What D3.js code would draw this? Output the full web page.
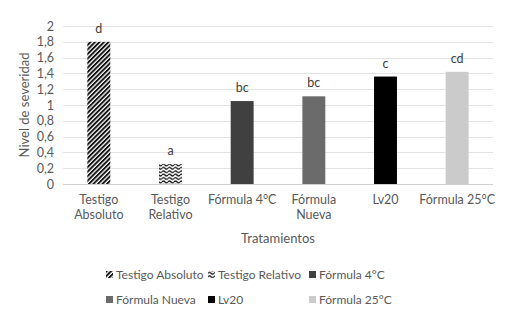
<!DOCTYPE html>
<html>
<head>
<meta charset="utf-8">
<script src="https://cdn.jsdelivr.net/npm/d3@7"></script>
<style>
  body { margin: 0; background: #fff; }
  text { font-family: Lato, "Open Sans", sans-serif; }
</style>
</head>
<body>
<div id="chart"></div>
<script>
// data
var categories = ["Testigo Absoluto", "Testigo Relativo", "Fórmula 4°C", "Fórmula Nueva", "Lv20", "Fórmula 25°C"];
var tickLabels = [["Testigo", "Absoluto"], ["Testigo", "Relativo"], ["Fórmula 4°C"], ["Fórmula", "Nueva"], ["Lv20"], ["Fórmula 25°C"]];
var values = [1.8, 0.25, 1.05, 1.11, 1.36, 1.42];
var letters = ["d", "a", "bc", "bc", "c", "cd"];
var yTicks = [0, 0.2, 0.4, 0.6, 0.8, 1, 1.2, 1.4, 1.6, 1.8, 2];
var legendRows = [["Testigo Absoluto", "Testigo Relativo", "Fórmula 4°C"], ["Fórmula Nueva", "Lv20", "Fórmula 25°C"]];

var fills = ["url(#diag)", "url(#wave)", "#404040", "#6b6b6b", "#000000", "#cbcbcb"];

var width = 506, height = 316;
var margin = { left: 63, right: 13, top: 26, bottom: 132 };

var svg = d3.select("#chart").append("svg")
  .attr("width", width)
  .attr("height", height);

// patterns for the two controls
var defs = svg.append("defs");
var diag = defs.append("pattern")
  .attr("id", "diag")
  .attr("patternUnits", "userSpaceOnUse")
  .attr("width", 3.2).attr("height", 3.2)
  .attr("patternTransform", "rotate(45)");
diag.append("rect").attr("width", 3.2).attr("height", 3.2).attr("fill", "#fff");
diag.append("rect").attr("width", 1.9).attr("height", 3.2).attr("fill", "#111");

var wave = defs.append("pattern")
  .attr("id", "wave")
  .attr("patternUnits", "userSpaceOnUse")
  .attr("width", 6).attr("height", 3.4);
wave.append("rect").attr("width", 6).attr("height", 3.4).attr("fill", "#fff");
wave.append("path")
  .attr("d", "M0,1.7 Q1.5,0 3,1.7 T6,1.7")
  .attr("fill", "none")
  .attr("stroke", "#111")
  .attr("stroke-width", 1.3);

var x = d3.scaleBand()
  .domain(categories)
  .range([margin.left, width - margin.right])
  .paddingInner(0.68)
  .paddingOuter(0.34);

var y = d3.scaleLinear()
  .domain([0, 2])
  .range([height - margin.bottom, margin.top]);

// gridlines
svg.append("g")
  .selectAll("line")
  .data(yTicks)
  .enter()
    .append("line")
    .attr("x1", margin.left)
    .attr("x2", width - margin.right)
    .attr("y1", function(d) { return Math.round(y(d)) + 0.5; })
    .attr("y2", function(d) { return Math.round(y(d)) + 0.5; })
    .attr("stroke", function(d) { return d === 0 ? "#d0d0d0" : "#e3e3e3"; })
    .attr("stroke-width", 1);

// y axis labels
var yAxis = d3.axisLeft(y)
  .tickValues(yTicks)
  .tickSize(0)
  .tickPadding(9)
  .tickFormat(function(d) { return String(d).replace(".", ","); });

var yAxisGroup = svg.append("g")
  .attr("transform", "translate(" + margin.left + ",0)")
  .call(yAxis);
yAxisGroup.select(".domain").remove();
yAxisGroup.selectAll("text")
  .style("font-family", "Lato, 'Open Sans', sans-serif")
  .attr("font-size", 12.5)
  .attr("fill", "#595959");

// bars
svg.append("g")
  .selectAll("rect")
  .data(values)
  .enter()
    .append("rect")
    .attr("x", function(d, i) { return x(categories[i]); })
    .attr("y", function(d) { return y(d); })
    .attr("width", x.bandwidth())
    .attr("height", function(d) { return y(0) - y(d); })
    .attr("fill", function(d, i) { return fills[i]; });

// letters above bars
svg.append("g")
  .selectAll("text")
  .data(values)
  .enter()
    .append("text")
    .attr("x", function(d, i) { return x(categories[i]) + x.bandwidth() / 2; })
    .attr("y", function(d) { return y(d) - 9; })
    .attr("text-anchor", "middle")
    .attr("font-size", 12.5)
    .attr("fill", "#404040")
    .text(function(d, i) { return letters[i]; });

// x axis labels
var xLabels = svg.append("g")
  .selectAll("text")
  .data(tickLabels)
  .enter()
    .append("text")
    .attr("x", function(d, i) { return x(categories[i]) + x.bandwidth() / 2; })
    .attr("y", 204)
    .attr("text-anchor", "middle")
    .attr("font-size", 12.5)
    .attr("fill", "#595959");

xLabels.selectAll("tspan")
  .data(function(d) { return d; })
  .enter()
    .append("tspan")
    .attr("x", function() { return d3.select(this.parentNode).attr("x"); })
    .attr("dy", function(d, i) { return i === 0 ? 0 : 15; })
    .text(function(d) { return d; });

// axis titles
svg.append("text")
  .attr("x", (margin.left + width - margin.right) / 2)
  .attr("y", 243)
  .attr("text-anchor", "middle")
  .attr("font-size", 13)
  .attr("fill", "#595959")
  .text("Tratamientos");

svg.append("text")
  .attr("transform", "translate(29,105) rotate(-90)")
  .attr("text-anchor", "middle")
  .attr("font-size", 13)
  .attr("fill", "#595959")
  .text("Nivel de severidad");

// legend
var legendX = [106, 208, 309];
var legendY = [275, 300];

legendRows.forEach(function(row, r) {
  row.forEach(function(name, c) {
    var i = categories.indexOf(name);
    var item = svg.append("g")
      .attr("transform", "translate(" + legendX[c] + "," + legendY[r] + ")");
    item.append("rect")
      .attr("x", 0)
      .attr("y", -4)
      .attr("width", 7)
      .attr("height", 7)
      .attr("fill", fills[i]);
    item.append("text")
      .attr("x", 10)
      .attr("y", 4)
      .attr("font-size", 12)
      .attr("fill", "#595959")
      .text(name);
  });
});
</script>
</body>
</html>
